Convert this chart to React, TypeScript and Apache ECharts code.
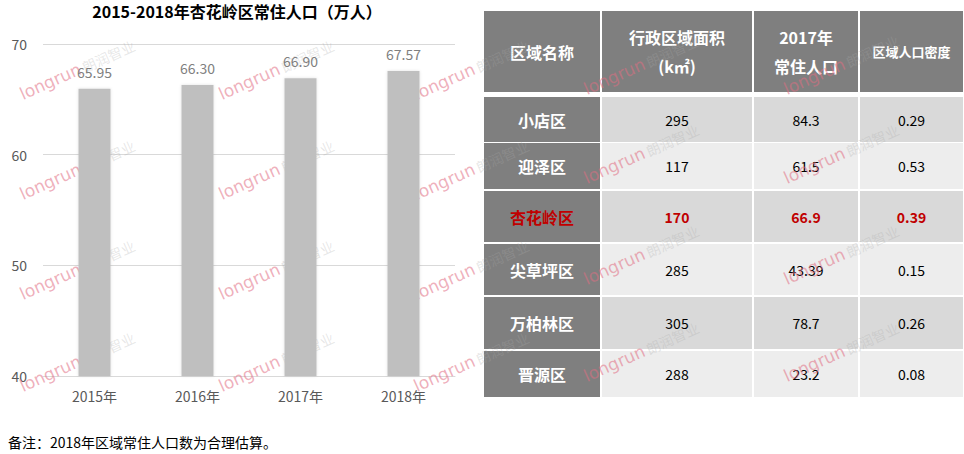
import React, { useEffect, useRef } from "react";
import * as echarts from "echarts";

const years = ["2015年", "2016年", "2017年", "2018年"];
const population = [65.95, 66.3, 66.9, 67.57];
const yTicks = { min: 40, max: 70, interval: 10 };

const tableHeaders = ["区域名称", "行政区域面积\n(k㎡)", "2017年\n常住人口", "区域人口密度"];
const districts = ["小店区", "迎泽区", "杏花岭区", "尖草坪区", "万柏林区", "晋源区"];
const areas = ["295", "117", "170", "285", "305", "288"];
const pop2017 = ["84.3", "61.5", "66.9", "43.39", "78.7", "23.2"];
const densities = ["0.29", "0.53", "0.39", "0.15", "0.26", "0.08"];
const highlightDistrict = "杏花岭区";

const titleText = "2015-2018年杏花岭区常住人口（万人）";
const noteText = "备注：2018年区域常住人口数为合理估算。";
const watermarkText = "longrun";
const watermarkCn = "朗润智业";

const FONT = "Noto Sans CJK SC, Noto Sans, sans-serif";
const WM_FONT = "DejaVu Sans, sans-serif";

function buildTable(): any[] {
  const els: any[] = [];
  const colX = [484, 602, 754, 860];
  const colW = [116, 150, 104, 103];
  const headerTop = 11;
  const headerH = 81;
  const rowTops = [97, 143, 191, 244, 297, 351];
  const rowHs = [45, 46, 51, 51, 52, 46];
  tableHeaders.forEach((h, c) => {
    els.push({
      type: "rect",
      shape: { x: colX[c], y: headerTop, width: colW[c], height: headerH },
      style: { fill: "#7f7f7f" },
    });
    els.push({
      type: "text",
      x: colX[c] + colW[c] / 2,
      y: headerTop + headerH / 2,
      style: {
        text: h,
        fill: "#ffffff",
        fontFamily: FONT,
        fontWeight: "bold",
        fontSize: c === 3 ? 13 : 16,
        lineHeight: 29,
        align: "center",
        verticalAlign: "middle",
      },
    });
  });
  districts.forEach((d, r) => {
    const y = rowTops[r];
    const hgt = rowHs[r];
    const isHL = d === highlightDistrict;
    const cellFill = r % 2 === 0 ? "#d9d9d9" : "#ededed";
    const vals = [d, areas[r], pop2017[r], densities[r]];
    vals.forEach((v, c) => {
      els.push({
        type: "rect",
        shape: { x: colX[c], y, width: colW[c], height: hgt },
        style: { fill: c === 0 ? "#7f7f7f" : cellFill },
      });
      els.push({
        type: "text",
        x: colX[c] + colW[c] / 2,
        y: y + hgt / 2,
        style: {
          text: v,
          fill: isHL ? "#c00000" : c === 0 ? "#ffffff" : "#000000",
          fontFamily: FONT,
          fontWeight: c === 0 || isHL ? "bold" : "normal",
          fontSize: c === 0 ? 16 : 14,
          align: "center",
          verticalAlign: "middle",
        },
      });
    });
  });
  return els;
}

function buildWatermarks(): any[] {
  const els: any[] = [];
  const leftXs = [51, 250, 445];
  const leftYs = [83, 183, 283, 375];
  const rightXs = [615, 815];
  const rightYs = [78, 167, 268, 365];
  const spots: [number, number][] = [];
  leftYs.forEach((y) => leftXs.forEach((x) => spots.push([x, y])));
  rightYs.forEach((y) => rightXs.forEach((x) => spots.push([x, y])));
  spots.forEach(([x, y]) => {
    els.push({
      type: "text",
      x: x - 34,
      y: y + 4,
      rotation: 0.42,
      style: {
        text: watermarkText,
        fill: "rgba(225, 110, 130, 0.55)",
        fontFamily: WM_FONT,
        fontSize: 17,
      },
    });
    els.push({
      type: "text",
      x: x + 29,
      y: y - 22,
      rotation: 0.42,
      style: {
        text: watermarkCn,
        fill: "rgba(170, 170, 170, 0.28)",
        fontFamily: FONT,
        fontSize: 14,
      },
    });
  });
  return els;
}

export default function App() {
  const ref = useRef<HTMLDivElement>(null);
  useEffect(() => {
    if (!ref.current) return;
    const chart = echarts.init(ref.current, null, { renderer: "svg" });
    chart.setOption({
      animation: false,
      backgroundColor: "#ffffff",
      title: {
        text: titleText,
        left: 232,
        top: 0,
        padding: [3, 5],
        textAlign: "center",
        textStyle: { fontFamily: FONT, fontSize: 16, fontWeight: "bold", color: "#000000" },
      },
      grid: { left: 43, right: 509, top: 44, bottom: 78 },
      xAxis: {
        type: "category",
        data: years,
        axisLine: { lineStyle: { color: "#d9d9d9" } },
        axisTick: { show: false },
        axisLabel: { color: "#595959", fontSize: 14, margin: 13, fontFamily: FONT },
      },
      yAxis: {
        type: "value",
        min: yTicks.min,
        max: yTicks.max,
        interval: yTicks.interval,
        axisLine: { show: false },
        axisTick: { show: false },
        axisLabel: { color: "#595959", fontSize: 14, margin: 16, fontFamily: FONT },
        splitLine: { lineStyle: { color: "#d9d9d9" } },
      },
      series: [
        {
          type: "bar",
          data: population,
          barWidth: 32,
          itemStyle: {
            color: "#bfbfbf",
            shadowBlur: 3,
            shadowColor: "rgba(0,0,0,0.12)",
          },
          label: {
            show: true,
            position: "top",
            distance: 10,
            color: "#7f7f7f",
            fontSize: 14,
            fontFamily: FONT,
            formatter: (p: any) => Number(p.value).toFixed(2),
          },
        },
        {
          type: "custom",
          coordinateSystem: "none",
          data: [0],
          renderItem: () => ({ type: "group", children: buildWatermarks() }),
        },
      ],
      graphic: [
        ...buildTable(),
        {
          type: "text",
          x: 8,
          y: 442,
          style: {
            text: noteText,
            fill: "#000000",
            fontFamily: FONT,
            fontSize: 14,
            align: "left",
            verticalAlign: "middle",
          },
        },
      ],
    });
    return () => chart.dispose();
  }, []);
  return (
    <div
      ref={ref}
      style={{ position: "absolute", left: 0, top: 0, width: 964, height: 454 }}
    />
  );
}
